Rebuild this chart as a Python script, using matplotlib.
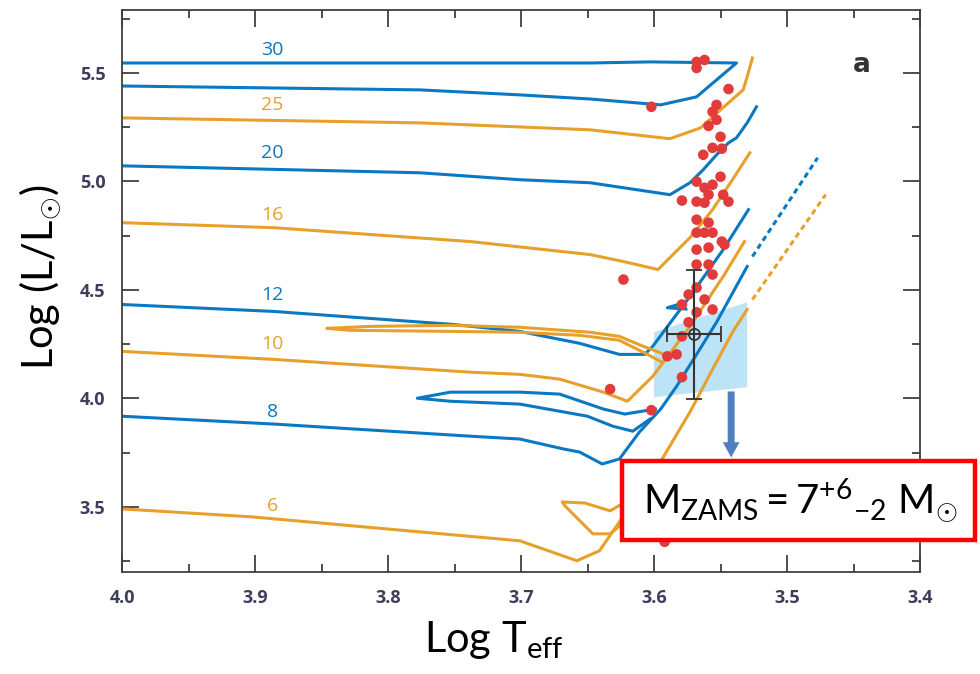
import matplotlib
matplotlib.use('Agg')
import matplotlib.pyplot as plt
from matplotlib.patches import Polygon, Rectangle

plt.rcParams['font.family'] = ['Lato', 'DejaVu Sans']
plt.rcParams['mathtext.fontset'] = 'custom'
plt.rcParams['mathtext.rm'] = 'Lato'
plt.rcParams['mathtext.it'] = 'Lato:italic'

BLUE = '#0a78c2'
ORANGE = '#e8a02c'

# evolutionary tracks (log Teff, log L/Lsun)
t30 = [4.0, 3.648, 3.603, 3.538, 3.568, 3.595, 3.648, 3.701, 3.776, 4.0]
l30 = [5.546, 5.546, 5.551, 5.546, 5.390, 5.353, 5.380, 5.399, 5.422, 5.440]

t25 = [4.0, 3.776, 3.648, 3.588, 3.565, 3.550, 3.533, 3.530, 3.526]
l25 = [5.293, 5.270, 5.238, 5.197, 5.247, 5.330, 5.422, 5.482, 5.569]

t20 = [4.0, 3.776, 3.701, 3.648, 3.588, 3.573, 3.563, 3.553, 3.544, 3.538, 3.530, 3.523]
l20 = [5.072, 5.040, 5.008, 4.994, 4.939, 4.994, 5.054, 5.123, 5.178, 5.201, 5.270, 5.344]

t16 = [4.0, 3.886, 3.738, 3.648, 3.623, 3.597, 3.573, 3.556, 3.541, 3.528]
l16 = [4.810, 4.787, 4.723, 4.663, 4.631, 4.594, 4.741, 4.870, 5.008, 5.132]

t12 = [4.0, 3.886, 3.751, 3.701, 3.656, 3.626, 3.607, 3.601, 3.573, 3.548, 3.529]
l12 = [4.433, 4.401, 4.341, 4.309, 4.254, 4.203, 4.203, 4.240, 4.470, 4.686, 4.870]
t12_loop = [3.578, 3.590, 3.576]
l12_loop = [4.440, 4.418, 4.412]

t10 = [4.0, 3.886, 3.738, 3.701, 3.671, 3.638, 3.620, 3.601, 3.593, 3.573, 3.548, 3.532]
l10 = [4.217, 4.180, 4.121, 4.111, 4.089, 4.029, 3.987, 4.102, 4.167, 4.332, 4.562, 4.723]
t10_loop = [3.589, 3.598, 3.608, 3.626, 3.648, 3.701, 3.753, 3.814, 3.846,
            3.829, 3.753, 3.701, 3.656, 3.626, 3.605, 3.594]
l10_loop = [4.194, 4.217, 4.240, 4.286, 4.305, 4.328, 4.337, 4.332, 4.323,
            4.314, 4.309, 4.305, 4.291, 4.268, 4.203, 4.167]

t8 = [4.0, 3.886, 3.738, 3.701, 3.668, 3.656, 3.639, 3.626, 3.611, 3.595, 3.583, 3.568, 3.553, 3.530]
l8 = [3.918, 3.882, 3.826, 3.813, 3.767, 3.753, 3.698, 3.721, 3.845, 3.951, 4.056, 4.203, 4.351, 4.608]
t8_loop = [3.603, 3.616, 3.631, 3.650, 3.701, 3.753, 3.778, 3.753, 3.701, 3.671, 3.638, 3.622, 3.599]
l8_loop = [3.905, 3.849, 3.872, 3.918, 3.974, 3.987, 4.001, 4.029, 4.029, 4.020, 3.951, 3.928, 3.951]
t8_ext = [3.526, 3.477]
l8_ext = [4.654, 5.109]

t6 = [4.0, 3.902, 3.701, 3.658, 3.641, 3.626, 3.611, 3.593, 3.573, 3.556, 3.541, 3.530]
l6 = [3.491, 3.454, 3.344, 3.252, 3.298, 3.431, 3.569, 3.730, 3.937, 4.134, 4.305, 4.410]
t6_loop = [3.624, 3.633, 3.652, 3.669, 3.667, 3.646, 3.633, 3.624]
l6_loop = [3.514, 3.482, 3.518, 3.523, 3.505, 3.376, 3.376, 3.422]
t6_ext = [3.526, 3.471]
l6_ext = [4.456, 4.939]

masses = ['30', '25', '20', '16', '12', '10', '8', '6']
mass_colors = [BLUE, ORANGE, BLUE, ORANGE, BLUE, ORANGE, BLUE, ORANGE]
label_t = 3.887
label_l = [5.606, 5.353, 5.132, 4.847, 4.479, 4.249, 3.937, 3.505]

# red supergiants
rsg_t = [3.568, 3.562, 3.568, 3.602, 3.544, 3.553, 3.556, 3.553, 3.559, 3.550,
         3.556, 3.549, 3.563, 3.550, 3.568, 3.562, 3.556, 3.559, 3.579, 3.568,
         3.548, 3.544, 3.562, 3.568, 3.559, 3.568, 3.562, 3.556, 3.549, 3.547,
         3.568, 3.559, 3.568, 3.559, 3.556, 3.623, 3.568, 3.574, 3.562, 3.579,
         3.556, 3.568, 3.574, 3.579, 3.590, 3.583, 3.633, 3.602, 3.579, 3.592]
rsg_l = [5.551, 5.560, 5.523, 5.344, 5.426, 5.353, 5.321, 5.284, 5.256, 5.206,
         5.155, 5.151, 5.123, 5.022, 4.999, 4.971, 4.985, 4.939, 4.912, 4.907,
         4.939, 4.907, 4.902, 4.824, 4.810, 4.764, 4.764, 4.764, 4.723, 4.709,
         4.686, 4.695, 4.617, 4.617, 4.571, 4.548, 4.511, 4.479, 4.456, 4.433,
         4.410, 4.397, 4.351, 4.286, 4.194, 4.203, 4.043, 3.946, 4.098, 3.339]

# progenitor estimate
prog_t, prog_terr = 3.570, 0.020
prog_l, prog_lerr = 4.295, 0.297
box_t = [3.600, 3.530, 3.530, 3.600]
box_l = [4.305, 4.443, 4.052, 4.006]

fig = plt.figure(figsize=(9.8, 6.74), dpi=100)
ax = fig.add_axes([0.1245, 0.1513, 0.8143, 0.8338])

ax.add_patch(Polygon(list(zip(box_t, box_l)), closed=True, facecolor='#bde3f6',
                     edgecolor='none', zorder=1))

lw = 2.2
for t, l, c in [(t30, l30, BLUE), (t25, l25, ORANGE), (t20, l20, BLUE),
                (t16, l16, ORANGE), (t12, l12, BLUE), (t12_loop, l12_loop, BLUE),
                (t10, l10, ORANGE), (t10_loop, l10_loop, ORANGE),
                (t8, l8, BLUE), (t8_loop, l8_loop, BLUE),
                (t6, l6, ORANGE), (t6_loop, l6_loop, ORANGE)]:
    ax.plot(t, l, color=c, lw=lw, solid_joinstyle='round', zorder=2)
ax.plot(t8_ext, l8_ext, color=BLUE, lw=lw, dashes=(1.8, 1.3), zorder=2)
ax.plot(t6_ext, l6_ext, color=ORANGE, lw=lw, dashes=(1.8, 1.3), zorder=2)

for m, c, l in zip(masses, mass_colors, label_l):
    ax.text(label_t, l, m, color=c, fontsize=14, ha='center', va='center',
            family=['Open Sans', 'DejaVu Sans'])

ax.scatter(rsg_t, rsg_l, s=58, color='#e23b3b', edgecolors='none', zorder=3)

ax.errorbar(prog_t, prog_l, xerr=prog_terr, yerr=prog_lerr, fmt='o', ms=8,
            mfc='none', mec='#333333', mew=1.3, ecolor='#333333', elinewidth=1.5,
            capsize=6, capthick=1.5, zorder=4)
ax.plot(prog_t, prog_l, marker='+', ms=8, color='#333333', mew=1.3, zorder=4)

ax.annotate('', xy=(3.542, 3.715), xytext=(3.542, 4.045),
            arrowprops=dict(arrowstyle='simple,head_length=1.1,head_width=1.2,tail_width=0.5',
                            color='#4f7fbf', lw=0), zorder=5)

ax.set_xlim(4.0, 3.4)
ax.set_ylim(3.2, 5.79)
ax.set_xticks([4.0, 3.9, 3.8, 3.7, 3.6, 3.5, 3.4])
ax.set_xticks([3.95, 3.85, 3.75, 3.65, 3.55, 3.45], minor=True)
ax.set_yticks([3.5, 4.0, 4.5, 5.0, 5.5])
ax.set_yticks([3.25, 3.75, 4.25, 4.75, 5.25, 5.75], minor=True)
ax.tick_params(which='both', direction='in', top=True, right=True,
               color='#404040', width=1.3)
ax.tick_params(which='major', length=12, pad=12, labelsize=13,
               labelcolor='#3d3d5c')
ax.tick_params(which='minor', length=6)
for lab in ax.get_xticklabels() + ax.get_yticklabels():
    lab.set_fontweight('bold')
    lab.set_family(['Open Sans', 'DejaVu Sans'])
for sp in ax.spines.values():
    sp.set_color('#404040')
    sp.set_linewidth(1.3)

ax.text(0.927, 0.902, 'a', transform=ax.transAxes, fontsize=19,
        fontweight='bold', color='#333333', ha='center', va='center',
        family=['DejaVu Sans'])

fig.text(494 / 980, 1 - 640 / 674, r'Log T$_{\mathrm{eff}}$', fontsize=30,
         ha='center', va='center')
fig.text(40 / 980, 1 - 277 / 674, r'Log (L/L$_{\odot}$)', fontsize=30,
         rotation=90, ha='center', va='center')

fig.patches.append(Rectangle((622 / 980, 1 - 540 / 674), 353 / 980, 79 / 674,
                             transform=fig.transFigure, facecolor='white',
                             edgecolor='#ff0000', lw=3.2, zorder=6))
fig.text(800 / 980, 1 - 500 / 674,
         r'$\mathrm{M_{ZAMS} = 7^{+6}{}_{-2}\ M_{\odot}}$', fontsize=29,
         ha='center', va='center', zorder=7)

fig.savefig('out.png', dpi=100)
